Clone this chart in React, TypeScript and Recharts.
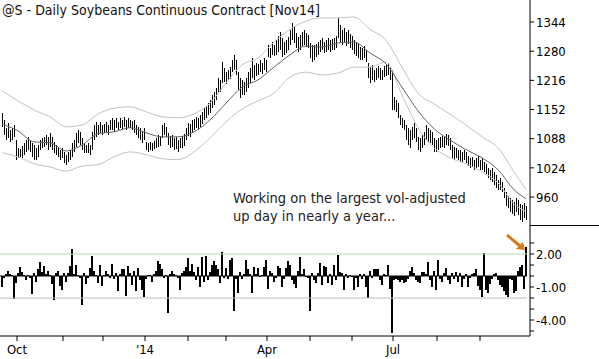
import { ComposedChart, Bar, Line, XAxis, YAxis, ReferenceLine } from "recharts";

// daily high / low of the continuous contract, one entry per session
const highs = [
  1144, 1129, 1112, 1123, 1107, 1112, 1118, 1085, 1068, 1066,
  1072, 1079, 1085, 1092, 1085, 1079, 1074, 1068, 1074, 1085,
  1090, 1092, 1096, 1092, 1101, 1092, 1081, 1074, 1068, 1064,
  1068, 1059, 1053, 1059, 1064, 1079, 1085, 1101, 1107, 1103,
  1090, 1079, 1074, 1079, 1074, 1103, 1118, 1125, 1118, 1125,
  1118, 1120, 1125, 1118, 1129, 1134, 1129, 1134, 1125, 1134,
  1129, 1136, 1129, 1134, 1129, 1127, 1129, 1118, 1114, 1112,
  1103, 1112, 1081, 1079, 1081, 1079, 1083, 1090, 1096, 1094,
  1118, 1123, 1114, 1101, 1094, 1096, 1090, 1092, 1085, 1090,
  1094, 1099, 1112, 1123, 1120, 1129, 1131, 1136, 1134, 1140,
  1147, 1155, 1160, 1166, 1173, 1184, 1190, 1199, 1221, 1217,
  1256, 1243, 1234, 1239, 1245, 1261, 1272, 1261, 1234, 1221,
  1217, 1212, 1221, 1234, 1243, 1265, 1250, 1254, 1252, 1261,
  1254, 1265, 1261, 1293, 1287, 1300, 1293, 1304, 1313, 1322,
  1309, 1300, 1304, 1311, 1326, 1342, 1333, 1320, 1311, 1315,
  1322, 1326, 1320, 1315, 1298, 1293, 1293, 1296, 1300, 1304,
  1309, 1300, 1304, 1309, 1304, 1307, 1309, 1313, 1353, 1337,
  1326, 1331, 1322, 1326, 1318, 1313, 1304, 1300, 1296, 1289,
  1287, 1291, 1283, 1254, 1245, 1250, 1239, 1243, 1247, 1243,
  1239, 1247, 1250, 1254, 1243, 1239, 1180, 1173, 1166, 1140,
  1134, 1129, 1118, 1112, 1107, 1114, 1123, 1112, 1092, 1090,
  1096, 1103, 1118, 1112, 1107, 1103, 1090, 1085, 1090, 1092,
  1094, 1092, 1099, 1096, 1090, 1074, 1070, 1068, 1064, 1064,
  1059, 1064, 1059, 1050, 1046, 1048, 1042, 1046, 1050, 1042,
  1046, 1037, 1033, 1024, 1020, 1024, 1015, 1009, 998, 1002,
  993, 980, 971, 963, 958, 954, 950, 958, 954, 945,
  943, 947, 941,
];

const lows = [
  1114, 1096, 1085, 1090, 1081, 1085, 1092, 1042, 1046, 1048,
  1046, 1053, 1059, 1064, 1059, 1048, 1042, 1042, 1048, 1064,
  1068, 1070, 1074, 1064, 1070, 1064, 1057, 1053, 1048, 1042,
  1046, 1035, 1031, 1037, 1042, 1048, 1059, 1070, 1079, 1074,
  1064, 1057, 1057, 1057, 1053, 1064, 1085, 1092, 1096, 1101,
  1096, 1101, 1103, 1096, 1107, 1107, 1103, 1112, 1107, 1112,
  1107, 1114, 1107, 1112, 1112, 1107, 1101, 1096, 1090, 1085,
  1079, 1085, 1064, 1059, 1064, 1061, 1066, 1068, 1070, 1072,
  1090, 1096, 1092, 1074, 1068, 1070, 1064, 1066, 1059, 1068,
  1068, 1072, 1085, 1094, 1092, 1103, 1107, 1112, 1110, 1114,
  1120, 1129, 1134, 1140, 1144, 1155, 1162, 1173, 1188, 1190,
  1210, 1212, 1208, 1217, 1219, 1234, 1239, 1228, 1195, 1177,
  1184, 1184, 1190, 1199, 1210, 1221, 1217, 1226, 1228, 1234,
  1230, 1239, 1234, 1267, 1265, 1272, 1269, 1272, 1278, 1283,
  1267, 1272, 1276, 1283, 1293, 1304, 1298, 1287, 1278, 1283,
  1291, 1293, 1289, 1287, 1265, 1256, 1261, 1267, 1272, 1278,
  1283, 1276, 1278, 1283, 1278, 1283, 1283, 1287, 1309, 1298,
  1293, 1300, 1291, 1296, 1287, 1283, 1274, 1269, 1265, 1261,
  1261, 1265, 1256, 1221, 1210, 1217, 1212, 1217, 1221, 1217,
  1217, 1223, 1226, 1228, 1217, 1151, 1151, 1147, 1134, 1118,
  1112, 1107, 1085, 1074, 1068, 1085, 1090, 1081, 1064, 1059,
  1068, 1074, 1085, 1081, 1079, 1074, 1059, 1059, 1064, 1068,
  1070, 1068, 1074, 1072, 1064, 1046, 1042, 1046, 1042, 1037,
  1037, 1042, 1035, 1028, 1024, 1026, 1020, 1024, 1026, 1020,
  1020, 1015, 1009, 1002, 998, 993, 987, 980, 976, 976,
  971, 958, 941, 936, 928, 923, 919, 928, 921, 910,
  906, 915, 910,
];

// volatility-adjusted daily change (lower pane)
const volAdj = [
  -1.0, -0.2, 0.2, 0.5, 0.2, 0.1, -2.1, -0.6, 0.3, 0.8,
  0.4, 0.1, -0.4, 0.1, -0.2, -1.6, 0.3, -0.5, 0.6, 1.3,
  0.4, 0.9, 0.2, 0.5, 0.1, -0.7, -2.2, 0.3, 0.5, -0.9,
  -1.3, 0.3, -0.5, 0.3, 0.9, 2.5, 0.2, 1.0, 0.1, -0.2,
  -2.6, 0.3, -0.7, -0.2, 0.7, 1.8, 0.5, 0.1, -0.6, 1.0,
  -0.9, 0.1, 0.5, 0.2, -0.2, 1.1, -0.3, 0.3, -1.4, 0.2,
  0.6, 0.6, -1.8, 0.9, 0.3, -0.8, 0.5, -1.4, 0.7, -0.4,
  -1.3, -1.9, -0.3, 0.1, 0.1, -0.5, 0.2, 0.5, 1.4, 1.1,
  0.6, -0.2, 0.1, -3.4, 0.2, 0.5, 0.2, 0.1, -0.2, -1.3,
  0.3, 0.5, 0.8, 1.6, 0.5, 1.1, 0.4, -0.4, 0.8, -1.0,
  1.7, -0.5, 1.8, -0.4, 0.4, 1.0, 1.4, 1.0, 0.6, -0.6,
  2.2, -0.2, 0.7, -0.3, 1.5, 1.6, -3.2, -0.3, -1.5, 0.4,
  -0.3, 0.2, 1.5, 0.6, 0.2, -1.5, 0.8, 0.2, 0.7, -0.1,
  0.1, 0.8, 1.5, -1.2, 0.5, 0.3, -0.5, -0.2, 0.9, 0.7,
  -1.0, -0.3, 0.7, 1.4, 1.0, -0.4, -0.7, -1.1, 0.5, 1.7,
  0.2, 0.6, -0.1, -0.2, -3.2, 0.3, -0.4, -0.6, 0.3, 1.2,
  -0.8, 0.9, 0.8, -0.6, 0.2, -0.8, 1.0, -0.4, 1.9, 0.4,
  0.3, -1.3, 0.2, -0.2, 0.1, -0.1, -1.3, -0.2, -1.0, 0.2,
  -0.3, 0.2, -1.0, -2.0, 0.5, -0.2, 0.6, 0.6, 0.6, -0.4,
  -0.8, 0.2, 0.1, 1.0, -1.2, -5.2, -0.4, -0.3, -0.4, -0.5,
  -0.4, -0.6, -0.5, -0.3, 0.5, 0.8, 0.3, -0.4, -0.5, -0.6,
  0.4, 0.4, 0.2, 1.3, -0.4, -1.0, 0.5, -1.3, 1.5, -0.3,
  -0.5, 0.3, 0.7, -0.4, -0.7, 0.3, -0.3, 0.4, -0.5, 0.3,
  -1.0, -0.3, 0.2, -1.0, -0.2, 0.2, 0.3, 0.6, -0.9, -1.3,
  -1.9, 2.1, -1.3, -1.5, -0.7, -0.3, 0.2, 0.3, -0.4, -0.8,
  -1.0, -1.4, -1.7, -1.9, -0.3, -0.4, -1.5, -1.4, 0.5, 0.8,
  1.0, -1.2, 2.6,
];

// average and channel, read every 8th session
const bandIdx = [
  0, 8, 16, 24, 32, 40, 48, 56, 64, 72, 80, 88, 96, 104, 112, 120, 128,
  136, 144, 152, 160, 168, 176, 184, 192, 200, 208, 216, 224, 232, 240, 248, 256, 262,
];
const avgVals = [
  1120, 1105, 1081, 1079, 1061, 1074, 1099, 1103, 1112, 1101, 1092, 1092, 1103, 1129, 1166, 1201, 1217,
  1245, 1272, 1291, 1289, 1298, 1300, 1276, 1252, 1201, 1149, 1110, 1085, 1064, 1046, 1020, 976, 956,
];
const upperVals = [
  1193, 1171, 1151, 1136, 1114, 1118, 1142, 1155, 1158, 1147, 1136, 1134, 1142, 1166, 1210, 1250, 1265,
  1300, 1328, 1346, 1353, 1353, 1355, 1328, 1304, 1245, 1188, 1164, 1142, 1118, 1092, 1068, 1015, 976,
];
const lowerVals = [
  1057, 1048, 1033, 1026, 1017, 1028, 1031, 1048, 1059, 1053, 1044, 1042, 1059, 1090, 1125, 1153, 1171,
  1188, 1223, 1234, 1228, 1232, 1245, 1245, 1256, 1184, 1112, 1068, 1046, 1033, 1015, 991, 945, 928,
];

const monthTicks = [7.5, 30.5, 50.5, 71.5, 93, 112, 132.5, 154, 175, 195.5, 217.5, 239];
const monthLabels = ["Oct", "", "", "'14", "", "", "Apr", "", "", "Jul", "", ""];
const priceTicks = [960, 1024, 1088, 1152, 1216, 1280, 1344];
const oscTicks = [3, 2, 1, 0, -1, -2, -3, -4, -5];
const oscLabels = [2, -1, -4];

const FONT = "'DejaVu Sans Condensed', 'DejaVu Sans', sans-serif";
const X_DOMAIN: [number, number] = [-1, 264];

const rows = highs.map((h, i) => ({ i, hl: [lows[i], h], v: volAdj[i] }));
const avgLine = bandIdx.map((i, k) => ({ i, v: avgVals[k] }));
const upperLine = bandIdx.map((i, k) => ({ i, v: upperVals[k] }));
const lowerLine = bandIdx.map((i, k) => ({ i, v: lowerVals[k] }));

function PriceBar(p: any) {
  const cx = Math.round(p.x + p.width / 2);
  const y0 = Math.min(p.y, p.y + p.height);
  return <rect x={cx} y={y0} width={1} height={Math.abs(p.height)} fill="#000" shapeRendering="crispEdges" />;
}

function OscBar(p: any) {
  const cx = Math.round(p.x + p.width / 2);
  const y0 = Math.min(p.y, p.y + p.height);
  return <rect x={cx - 1} y={y0} width={2} height={Math.max(1, Math.abs(p.height))} fill="#000" shapeRendering="crispEdges" />;
}

function PriceTick(p: any) {
  return (
    <text x={p.x} y={p.y} dy="0.36em" textAnchor="start" fontFamily={FONT} fontSize={13} fill="#000">
      {p.payload.value}
    </text>
  );
}

function OscTick(p: any) {
  if (!oscLabels.includes(p.payload.value)) return null;
  return (
    <text x={p.x} y={p.y} dy="0.36em" textAnchor="start" fontFamily={FONT} fontSize={13} fill="#000">
      {p.payload.value.toFixed(2)}
    </text>
  );
}

function MonthTick(p: any) {
  const label = monthLabels[monthTicks.indexOf(p.payload.value)];
  if (!label) return null;
  return (
    <text x={p.x} y={p.y} dy="0.75em" textAnchor="middle" fontFamily={FONT} fontSize={13} fill="#000">
      {label}
    </text>
  );
}

export default function App() {
  return (
    <div style={{ position: "relative", width: 599, height: 359, background: "#fff" }}>
      <style>{"body{margin:0}"}</style>
      <div style={{ position: "absolute", left: 0, top: 0 }}>
        <ComposedChart width={599} height={225} data={rows} margin={{ top: 0, right: 0, bottom: 0, left: 0 }}>
          <XAxis type="number" dataKey="i" domain={X_DOMAIN} hide />
          <YAxis
            orientation="right"
            width={69}
            domain={[898.6, 1392.3]}
            allowDataOverflow
            ticks={priceTicks}
            interval={0}
            axisLine={{ stroke: "#000" }}
            tickLine={{ stroke: "#000" }}
            tickSize={4}
            tickMargin={2}
            tick={<PriceTick />}
          />
          <Line data={upperLine} dataKey="v" type="monotone" stroke="#c4c4c4" strokeWidth={1} dot={false} activeDot={false} isAnimationActive={false} />
          <Line data={lowerLine} dataKey="v" type="monotone" stroke="#c4c4c4" strokeWidth={1} dot={false} activeDot={false} isAnimationActive={false} />
          <Line data={avgLine} dataKey="v" type="monotone" stroke="#666" strokeWidth={1} dot={false} activeDot={false} isAnimationActive={false} />
          <Bar dataKey="hl" barSize={1} shape={<PriceBar />} isAnimationActive={false} />
        </ComposedChart>
      </div>
      <div style={{ position: "absolute", left: 0, top: 225 }}>
        <ComposedChart width={599} height={134} data={rows} margin={{ top: 0, right: 0, bottom: 0, left: 0 }}>
          <XAxis
            type="number"
            dataKey="i"
            domain={X_DOMAIN}
            ticks={monthTicks}
            interval={0}
            height={23}
            axisLine={{ stroke: "#000" }}
            tickLine={{ stroke: "#000" }}
            tickSize={5}
            tickMargin={3}
            tick={<MonthTick />}
          />
          <YAxis
            orientation="right"
            width={69}
            domain={[-5.4545, 4.6364]}
            allowDataOverflow
            ticks={oscTicks}
            interval={0}
            axisLine={{ stroke: "#000" }}
            tickLine={{ stroke: "#000" }}
            tickSize={4}
            tickMargin={2}
            tick={<OscTick />}
          />
          <ReferenceLine segment={[{ x: -1, y: 2 }, { x: 262.5, y: 2 }]} stroke="#b5dbb5" strokeWidth={1} />
          <ReferenceLine segment={[{ x: -1, y: -2 }, { x: 262.5, y: -2 }]} stroke="#bdbdbd" strokeWidth={1} />
          <ReferenceLine segment={[{ x: -1, y: 0 }, { x: 262.5, y: 0 }]} stroke="#000" strokeWidth={1} />
          <Bar dataKey="v" barSize={2} shape={<OscBar />} isAnimationActive={false} />
        </ComposedChart>
      </div>
      <div style={{ position: "absolute", left: 530, top: 225, width: 69, borderTop: "1px solid #000" }} />
      <svg width={599} height={359} style={{ position: "absolute", left: 0, top: 0, pointerEvents: "none", whiteSpace: "pre" }}>
        <text x={2} y={15} fontFamily={FONT} fontSize={14} fill="#111">
          {"@S - Daily  Soybeans Continuous Contract [Nov14]"}
        </text>
        <text x={233} y={203} fontFamily={FONT} fontSize={14.5} fill="#222">
          Working on the largest vol-adjusted
        </text>
        <text x={233} y={221} fontFamily={FONT} fontSize={14.5} fill="#222">
          up day in nearly a year...
        </text>
        <line x1={507} y1={235} x2={520} y2={246} stroke="#d77a1c" strokeWidth={3} />
        <polygon points="525,250 516,249 523,242" fill="#d77a1c" />
      </svg>
    </div>
  );
}
